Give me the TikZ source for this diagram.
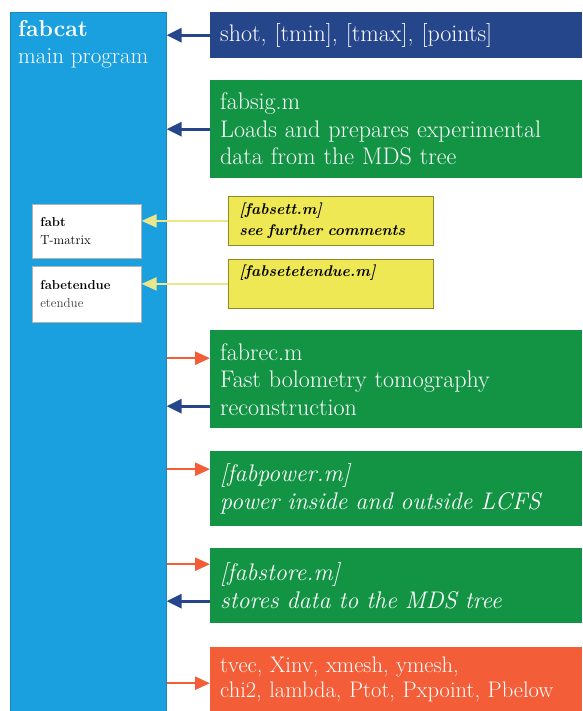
\documentclass[tikz,border=0pt]{standalone}
\usepackage{tikz}
\usetikzlibrary{arrows.meta}
\definecolor{mainblue}{RGB}{26, 160, 222}
\definecolor{darkblue}{RGB}{38, 70, 140}
\definecolor{boxgreen}{RGB}{18, 148, 68}
\definecolor{boxorange}{RGB}{243, 94, 56}
\definecolor{boxyellow}{RGB}{238, 232, 84}
\definecolor{lineyellow}{RGB}{234, 230, 140}

\begin{document}
\begin{tikzpicture}[x=1pt, y=-1pt,
  bigbox/.style={anchor=north west, inner xsep=10pt, inner ysep=0pt,
    text width=352pt, align=left, text=white,
    font=\fontsize{24}{27.5}\selectfont},
  setbox/.style={anchor=north west, fill=boxyellow, draw=olive!70!gray,
    line width=0.8pt, inner xsep=11pt, inner ysep=0pt, text width=183pt,
    align=left, font=\fontsize{15.5}{20.5}\selectfont\bfseries\itshape},
  smallbox/.style={anchor=north west, fill=white, draw=gray!60, line width=0.6pt,
    inner xsep=8pt, inner ysep=0pt, text width=93pt, align=left,
    font=\fontsize{13}{18}\selectfont},
  backarrow/.style={darkblue, line width=3pt, -{Triangle[length=15pt, width=14pt]}},
  callarrow/.style={boxorange, line width=2.5pt, -{Triangle[length=15pt, width=13pt]}},
  setarrow/.style={lineyellow, line width=2pt, -{Triangle[length=15pt, width=13pt]}}]

  \useasboundingbox (0, 0) rectangle (582, 711);

  % main program
  \node[anchor=north west, fill=mainblue, draw=mainblue!85!black, line width=0.6pt,
    minimum width=156pt, minimum height=699pt, inner sep=0pt,
    label={[anchor=north west, align=left, text=white, inner sep=8pt,
      font=\fontsize{23}{27.5}\selectfont]north west:{\textbf{fabcat}\\main program}}]
    (main) at (10, 12) {};

  \node[smallbox, minimum height=54pt] (fabt) at (32, 204)
    {\textbf{fabt}\\T-matrix};
  \node[smallbox, minimum height=56pt] (etend) at (32, 266)
    {\textbf{fabetendue}\\\textcolor{black!75}{etendue}};

  % boxes on the right
  \node[bigbox, fill=darkblue, minimum height=46pt] (shot) at (210, 12)
    {shot, [tmin], [tmax], [points]};
  \node[bigbox, fill=boxgreen, minimum height=98pt] (sig) at (210, 80)
    {fabsig.m\\Loads and prepares experimental\\data from the MDS tree};

  \node[setbox, minimum height=49pt] (sett) at (228, 196)
    {[fabsett.m]\\see further comments};
  \node[setbox, minimum height=49pt] (setet) at (228, 259)
    {[fabsetetendue.m]\\\strut};

  \node[bigbox, fill=boxgreen, minimum height=98pt] (rec) at (210, 330)
    {fabrec.m\\Fast bolometry tomography\\reconstruction};
  \node[bigbox, fill=boxgreen, minimum height=75pt] (power) at (210, 451)
    {\itshape [fabpower.m]\\power inside and outside LCFS};
  \node[bigbox, fill=boxgreen, minimum height=75pt] (store) at (210, 548)
    {\itshape [fabstore.m]\\stores data to the MDS tree};
  \node[bigbox, fill=boxorange, minimum height=64pt,
    font=\fontsize{22.5}{25}\selectfont] (out) at (210, 647)
    {tvec, Xinv, xmesh, ymesh,\\chi2, lambda, Ptot, Pxpoint, Pbelow};

  % connectors
  \draw[backarrow] (shot.west) -- (shot.west -| main.east);
  \draw[backarrow] (sig.west) -- (sig.west -| main.east);

  \draw[setarrow] (sett.west) -- (sett.west -| fabt.east);
  \draw[setarrow] (setet.west) -- (setet.west -| etend.east);

  \draw[callarrow] ([yshift=21pt]rec.west -| main.east) -- ([yshift=21pt]rec.west);
  \draw[backarrow] ([yshift=-27pt]rec.west) -- ([yshift=-27pt]rec.west -| main.east);

  \draw[callarrow] ([yshift=19.5pt]power.west -| main.east) -- ([yshift=19.5pt]power.west);

  \draw[callarrow] ([yshift=21.5pt]store.west -| main.east) -- ([yshift=21.5pt]store.west);
  \draw[backarrow] ([yshift=-15.5pt]store.west) -- ([yshift=-15.5pt]store.west -| main.east);

  \draw[callarrow] ([yshift=-4pt]out.west -| main.east) -- ([yshift=-4pt]out.west);

\end{tikzpicture}
\end{document}
